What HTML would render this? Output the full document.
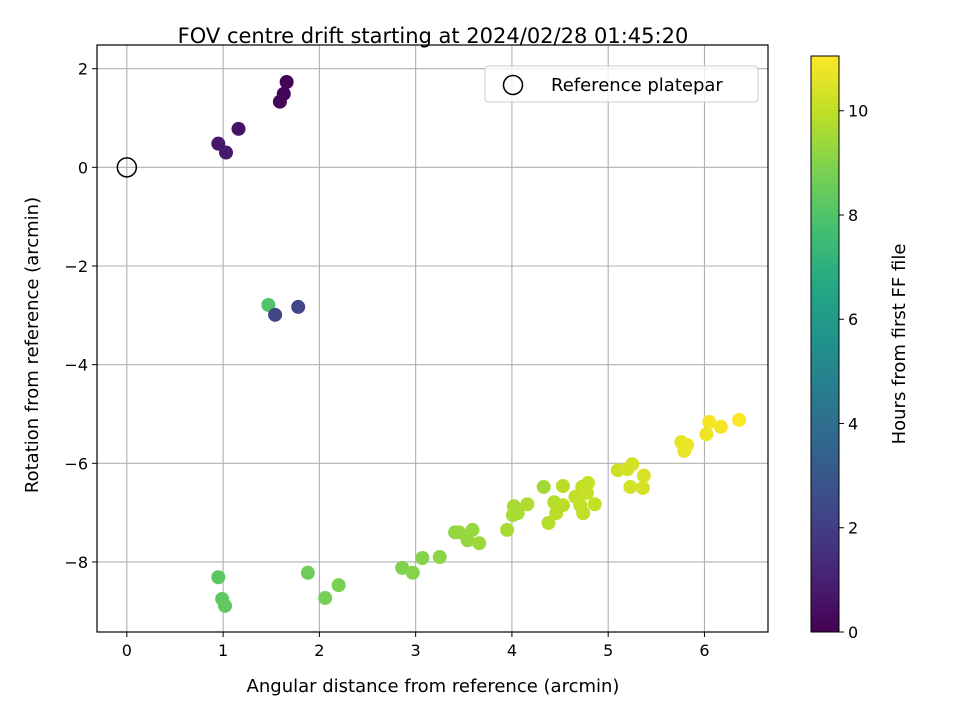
<!DOCTYPE html>
<html><head><meta charset="utf-8">
<style>
body{margin:0;background:#fff;}
svg{display:block;font-family:"DejaVu Sans","Liberation Sans",sans-serif;}
</style></head>
<body>
<svg id="chart" width="960" height="720" viewBox="0 0 960 720" xmlns="http://www.w3.org/2000/svg">
<defs>
<linearGradient id="vir" x1="0" y1="1" x2="0" y2="0">
<stop offset="0" stop-color="#440154"/><stop offset="0.1" stop-color="#482475"/><stop offset="0.2" stop-color="#414487"/><stop offset="0.3" stop-color="#355f8d"/><stop offset="0.4" stop-color="#2a788e"/><stop offset="0.5" stop-color="#21918c"/><stop offset="0.6" stop-color="#22a884"/><stop offset="0.7" stop-color="#44bf70"/><stop offset="0.8" stop-color="#7ad151"/><stop offset="0.9" stop-color="#bddf26"/><stop offset="1" stop-color="#fde725"/>
</linearGradient>
</defs>
<text x="433" y="43" font-size="21" text-anchor="middle">FOV centre drift starting at 2024/02/28 01:45:20</text>
<g id="grid"></g>
<g id="points"></g>
<g id="axes"></g>
<g>
<rect x="485" y="66" width="273" height="36" rx="3" fill="#fff" fill-opacity="0.8" stroke="#ccc"/>
<circle cx="513" cy="85" r="9.5" fill="none" stroke="#000" stroke-width="1.5"/>
<text x="551" y="91" font-size="18">Reference platepar</text>
</g>
<rect x="811" y="56" width="28" height="576" fill="url(#vir)" stroke="#000" stroke-width="1"/>
<g id="cbticks"></g>
<text transform="translate(905,344) rotate(-90)" font-size="18" text-anchor="middle">Hours from first FF file</text>
<text x="433" y="692" font-size="18" text-anchor="middle">Angular distance from reference (arcmin)</text>
<text transform="translate(38,345) rotate(-90)" font-size="18" text-anchor="middle">Rotation from reference (arcmin)</text>
</svg>
<script>
const xVals=[1.66,1.63,1.59,1.16,0.95,1.03,1.47,1.78,1.54,0.95,0.99,1.02,1.88,2.06,2.20,2.86,2.97,3.07,3.25,3.41,3.45,3.59,3.54,3.66,3.95,4.02,4.01,4.06,4.16,4.33,4.53,4.38,4.44,4.53,4.46,4.66,4.73,4.79,4.78,4.71,4.74,4.86,5.10,5.20,5.25,5.37,5.23,5.36,5.76,5.82,5.79,6.02,6.05,6.17,6.36];
const yVals=[1.73,1.49,1.33,0.78,0.48,0.30,-2.79,-2.83,-2.99,-8.31,-8.75,-8.89,-8.22,-8.73,-8.47,-8.12,-8.22,-7.92,-7.90,-7.40,-7.40,-7.35,-7.56,-7.62,-7.35,-6.87,-7.05,-7.01,-6.83,-6.48,-6.46,-7.21,-6.79,-6.85,-7.01,-6.68,-6.48,-6.40,-6.60,-6.85,-7.01,-6.83,-6.14,-6.12,-6.02,-6.25,-6.48,-6.50,-5.57,-5.63,-5.75,-5.41,-5.16,-5.26,-5.12];
const hours=[0.05,0.1,0.15,0.6,0.7,0.75,8.0,2.3,2.2,8.2,8.3,8.3,8.6,8.7,8.8,8.9,9.0,9.0,9.1,9.2,9.3,9.3,9.3,9.4,9.6,9.6,9.6,9.6,9.7,9.5,9.9,9.8,9.8,9.9,9.9,10.0,10.0,10.1,10.1,10.0,10.0,10.1,10.2,10.3,10.3,10.4,10.3,10.4,10.6,10.7,10.7,10.8,10.9,10.9,11.0];
const xTicks=[0,1,2,3,4,5,6];
const yTicks=[2,0,-2,-4,-6,-8];
const cTicks=[0,2,4,6,8,10];
const X0=97,X1=768,Y0=45,Y1=632;
const xMin=-0.31,xMax=6.66,yMin=-9.42,yMax=2.48,cMax=11.05;
const sx=v=>X0+(v-xMin)/(xMax-xMin)*(X1-X0);
const sy=v=>Y1-(v-yMin)/(yMax-yMin)*(Y1-Y0);
const sc=v=>632-v/cMax*576;
const vir=["#440154","#482475","#414487","#355f8d","#2a788e","#21918c","#22a884","#44bf70","#7ad151","#bddf26","#fde725"];
function hex(h){return [1,3,5].map(i=>parseInt(h.substr(i,2),16));}
function cmap(t){t=Math.max(0,Math.min(1,t))*10;const i=Math.min(9,Math.floor(t)),f=t-i;const a=hex(vir[i]),b=hex(vir[i+1]);return "rgb("+a.map((v,k)=>Math.round(v+(b[k]-v)*f)).join(",")+")";}
const NS="http://www.w3.org/2000/svg";
function mk(tag,attrs,parent,txt){const e=document.createElementNS(NS,tag);for(const k in attrs)e.setAttribute(k,attrs[k]);if(txt!==undefined)e.textContent=txt;parent.appendChild(e);return e;}
const grid=document.getElementById('grid'),axes=document.getElementById('axes'),pts=document.getElementById('points'),cb=document.getElementById('cbticks');
xTicks.forEach(t=>{const x=sx(t);
 const g=mk('line',{x1:x,x2:x,y1:Y0,y2:Y1,stroke:'#b0b0b0','stroke-width':1.1},grid);
 
 
 const tk=mk('line',{x1:x,x2:x,y1:Y1,y2:Y1+5,stroke:'#000'},axes);
 
 
 const l=mk('text',{x:x,y:Y1+24,'font-size':16,'text-anchor':'middle'},axes,String(t));
 
 
});
yTicks.forEach(t=>{const y=sy(t);
 const g=mk('line',{x1:X0,x2:X1,y1:y,y2:y,stroke:'#b0b0b0','stroke-width':1.1},grid);
 
 
 const tk=mk('line',{x1:X0-5,x2:X0,y1:y,y2:y,stroke:'#000'},axes);
 
 
 const l=mk('text',{x:X0-9,y:y+6,'font-size':16,'text-anchor':'end'},axes,t<0?'\u2212'+(-t):String(t));
 
 
});
const fr=mk('rect',{x:X0,y:Y0,width:X1-X0,height:Y1-Y0,fill:'none',stroke:'#000','stroke-width':1.2},axes);


const ref=mk('circle',{cx:sx(0),cy:sy(0),r:9.5,fill:'none',stroke:'#000','stroke-width':1.5},pts);


xVals.forEach((v,i)=>{
 const c=mk('circle',{cx:sx(v),cy:sy(yVals[i]),r:7,fill:cmap(hours[i]/cMax)},pts);
 
 
});
cTicks.forEach(t=>{const y=sc(t);
 const tk=mk('line',{x1:839,x2:844,y1:y,y2:y,stroke:'#000'},cb);
 
 
 const l=mk('text',{x:848,y:y+6,'font-size':16},cb,String(t));
 
 
});
</script>
</body></html>
